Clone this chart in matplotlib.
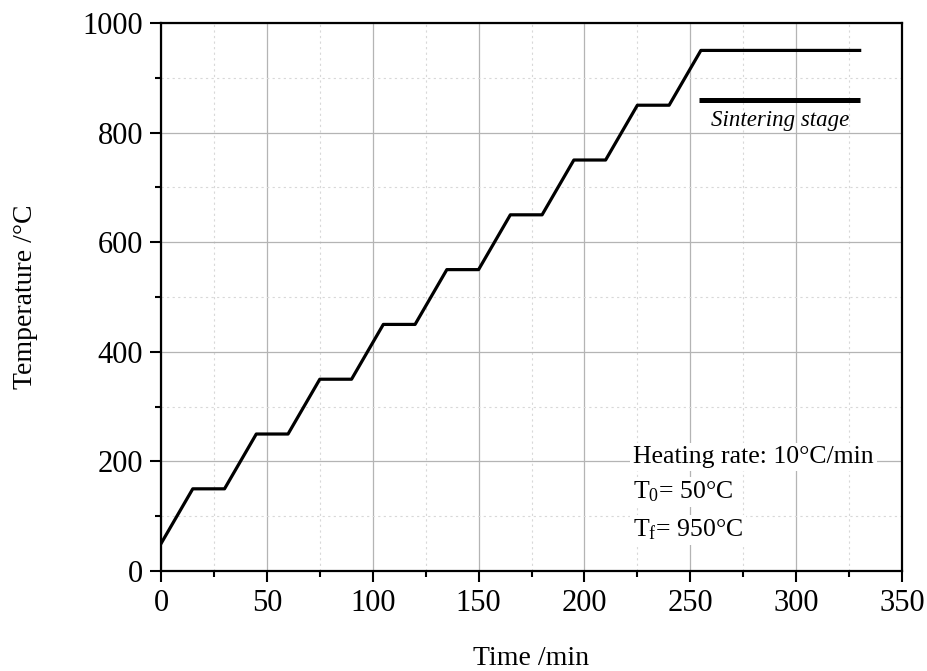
import matplotlib.pyplot as plt
from matplotlib.ticker import MultipleLocator

plt.rcParams['font.family'] = ['Liberation Serif', 'DejaVu Serif']
plt.rcParams['mathtext.fontset'] = 'custom'
plt.rcParams['mathtext.rm'] = 'Liberation Serif'
plt.rcParams['mathtext.it'] = 'Liberation Serif:italic'

# Heating profile: 15 min ramps, 15 min holds, final sintering hold
time_min = [0, 15, 30, 45, 60, 75, 90, 105, 120, 135, 150, 165, 180, 195, 210, 225, 240, 255, 330]
temp_c = [50, 150, 150, 250, 250, 350, 350, 450, 450, 550, 550, 650, 650, 750, 750, 850, 850, 950, 950]

sinter_x = [254, 330]
sinter_y = [860, 860]

info_lines = ['Heating rate: 10°C/min', r'T$_0$= 50°C', r'T$_\mathrm{f}$= 950°C']
info_y = [208, 144, 75]

fig = plt.figure(figsize=(9.28, 6.71), dpi=100)
ax = fig.add_axes([0.1735, 0.149, 0.7985, 0.8167])

ax.plot(time_min, temp_c, color='black', lw=2.3, zorder=3)
ax.plot(sinter_x, sinter_y, color='black', lw=3.6, solid_capstyle='butt', zorder=3)
ax.text(292.5, 823, 'Sintering stage', style='italic', fontsize=16.5, ha='center', va='center')

for s, yy in zip(info_lines, info_y):
    ax.text(223, yy, s, fontsize=18.5, ha='left', va='center', zorder=4,
            bbox=dict(facecolor='white', edgecolor='none', pad=2))

ax.set_xlim(0, 350)
ax.set_ylim(0, 1000)
ax.xaxis.set_major_locator(MultipleLocator(50))
ax.xaxis.set_minor_locator(MultipleLocator(25))
ax.yaxis.set_major_locator(MultipleLocator(200))
ax.yaxis.set_minor_locator(MultipleLocator(100))

ax.grid(which='major', color='#b4b4b4', lw=0.9)
ax.grid(which='minor', color='#d8d8d8', lw=0.8, ls=(0, (2, 3)))
ax.set_axisbelow(True)

ax.tick_params(which='major', direction='out', length=8, width=1.5, labelsize=22, pad=5)
ax.tick_params(which='minor', direction='out', length=4.5, width=1.5)
for sp in ax.spines.values():
    sp.set_linewidth(1.6)

ax.set_xlabel('Time /min', fontsize=20, labelpad=20)
ax.set_ylabel('Temperature /°C', fontsize=20, labelpad=32)

fig.savefig('out.png', dpi=100)
